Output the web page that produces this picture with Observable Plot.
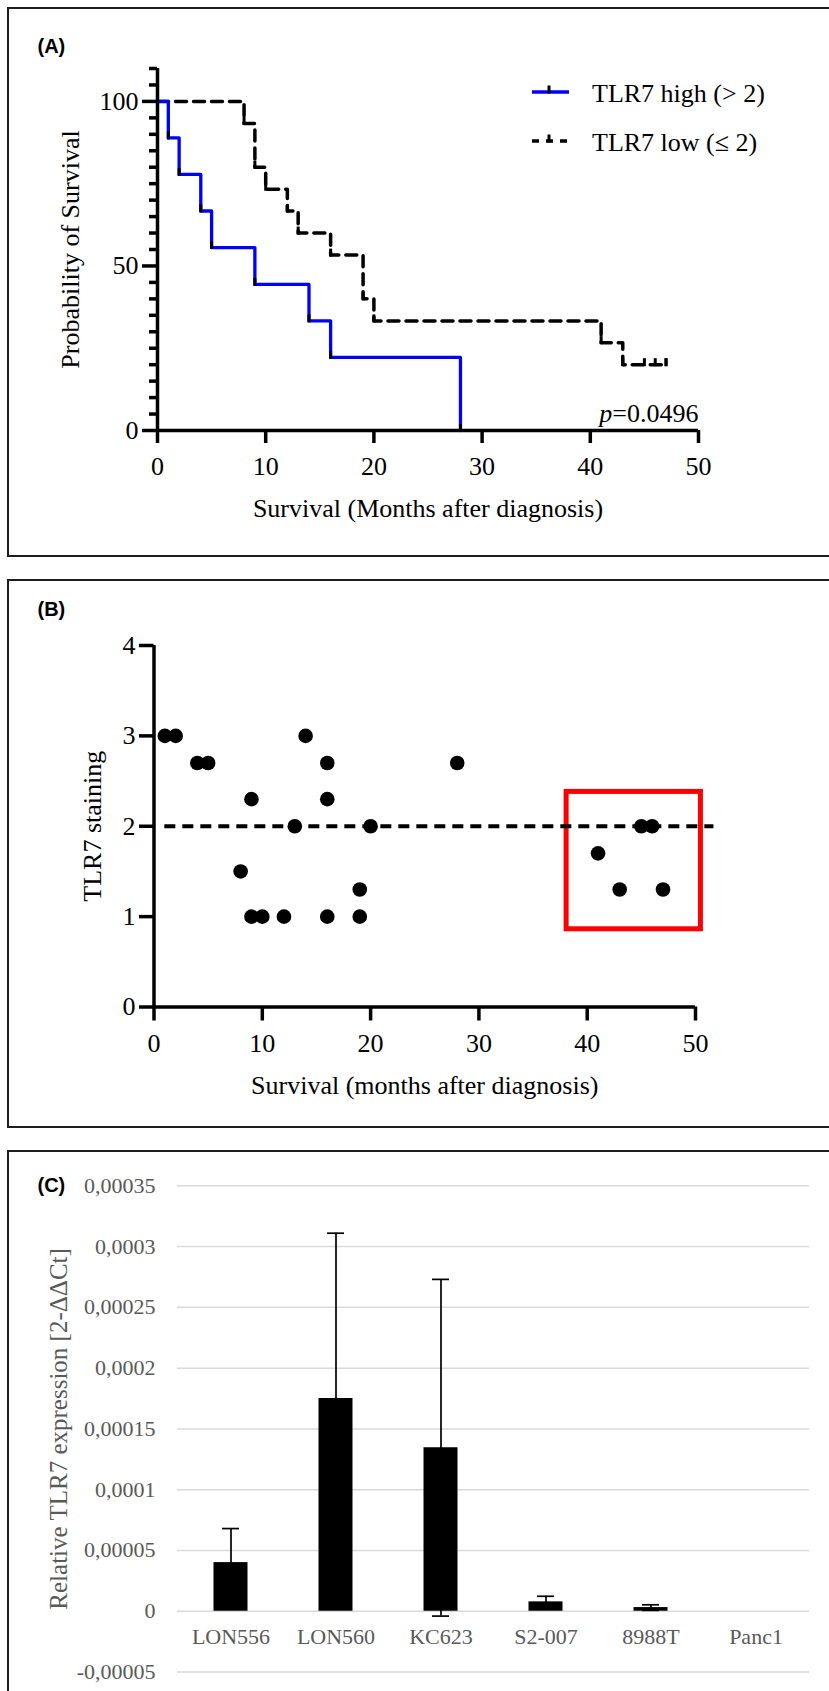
<!DOCTYPE html>
<html>
<head>
<meta charset="utf-8">
<script src="https://cdn.jsdelivr.net/npm/d3@7"></script>
<script src="https://cdn.jsdelivr.net/npm/@observablehq/plot@0.6"></script>
<style>
html, body { margin: 0; padding: 0; background: #fff; overflow: hidden; }
#page { position: relative; width: 829px; height: 1691px; overflow: hidden; background: #fff; }
.panel { position: absolute; left: 6.7px; width: 900px; border: 2.7px solid #1e1e1e; box-sizing: border-box; }
.chart { position: absolute; left: 0; }
</style>
</head>
<body>
<div id="page">
  <div class="panel" style="top:6.7px;height:550px"></div>
  <div class="panel" style="top:578.7px;height:549.3px"></div>
  <div class="panel" style="top:1150px;height:700px"></div>
</div>
<script>
// ---------- Panel A: Kaplan-Meier ----------
const kmHighTime = [0, 1, 2, 4, 5, 9, 14, 16, 28];
const kmHighSurv = [100, 88.9, 77.8, 66.7, 55.6, 44.4, 33.3, 22.2, 0];
const kmLowTime = [0, 8, 9, 10, 12, 13, 16, 19, 20, 41, 43, 47];
const kmLowSurv = [100, 93.3, 80, 73.3, 66.7, 60, 53.3, 40, 33.3, 26.7, 20, 20];
const kmLowCensorTime = [45, 46, 47];
const kmLowCensorSurv = [20, 20, 20];
const kmXTicks = [0, 10, 20, 30, 40, 50];
const kmYTicks = [0, 50, 100];
const kmYMinorTicks = [5, 10, 15, 20, 25, 30, 35, 40, 45, 55, 60, 65, 70, 75, 80, 85, 90, 95, 105, 110];
const kmLegendLabels = ["TLR7 high (> 2)", "TLR7 low (≤ 2)"];
const kmPValue = "p=0.0496";
const kmXLabel = "Survival (Months after diagnosis)";
const kmYLabel = "Probability of Survival";

// ---------- Panel B: scatter ----------
const survMonths = [1, 2, 4, 5, 9, 14, 16, 16, 28, 13, 20, 8, 9, 10, 12, 16, 19, 19, 41, 43, 45, 46, 47];
const tlr7Staining = [3, 3, 2.7, 2.7, 2.3, 3, 2.7, 2.3, 2.7, 2, 2, 1.5, 1, 1, 1, 1, 1.3, 1, 1.7, 1.3, 2, 2, 1.3];
const stainXTicks = [0, 10, 20, 30, 40, 50];
const stainYTicks = [0, 1, 2, 3, 4];
const stainThreshold = 2;
const stainThresholdSpan = [1, 51.7];
const highlightBox = [{x1: 38.1, x2: 50.5, y1: 0.86, y2: 2.38}];
const stainXLabel = "Survival (months after diagnosis)";
const stainYLabel = "TLR7 staining";

// ---------- Panel C: bar chart ----------
const cellLines = ["LON556", "LON560", "KC623", "S2-007", "8988T", "Panc1"];
const tlr7Expr = [0.00004, 0.000175, 0.0001345, 0.0000077, 0.000003, 0];
const tlr7Err = [0.000028, 0.000136, 0.0001385, 0.0000046, 0.0000023, 0];
const exprTicks = [-0.00005, 0, 0.00005, 0.0001, 0.00015, 0.0002, 0.00025, 0.0003, 0.00035];
const exprYLabel = "Relative TLR7 expression [2-ΔΔCt]";

const serif = "'Liberation Serif', 'Times New Roman', serif";
const sans = "'Liberation Sans', Arial, sans-serif";
const tickSymbol = { draw(ctx) { ctx.moveTo(0, 1.5); ctx.lineTo(0, -6.5); } };

const page = document.getElementById("page");
function place(svg, top) {
  svg.classList.add("chart");
  svg.style.top = top + "px";
  page.appendChild(svg);
}

// ----- A -----
const highData = kmHighTime.map((t, i) => ({t, s: kmHighSurv[i]}));
const lowData = kmLowTime.map((t, i) => ({t, s: kmLowSurv[i]}));
const highMarks = highData.slice(1);
const lowMarks = lowData.slice(1).concat(kmLowCensorTime.map((t, i) => ({t, s: kmLowCensorSurv[i]})));

const plotA = Plot.plot({
  width: 829, height: 560,
  marginLeft: 157, marginRight: 131, marginTop: 68, marginBottom: 130,
  x: {domain: [0, 50]},
  y: {domain: [0, 110]},
  style: {fontFamily: serif, fontSize: "26px", color: "#000", background: "transparent", overflow: "visible"},
  marks: [
    Plot.line(lowData, {x: "t", y: "s", curve: "step-after", stroke: "#000", strokeWidth: 3.5, strokeDasharray: "11,7"}),
    Plot.line(highData, {x: "t", y: "s", curve: "step-after", stroke: "#0000ff", strokeWidth: 3.3}),
    Plot.dot(lowMarks, {x: "t", y: "s", symbol: tickSymbol, stroke: "#000", strokeWidth: 3, fill: "none"}),
    Plot.dot(highMarks, {x: "t", y: "s", symbol: tickSymbol, stroke: "#000", strokeWidth: 3, fill: "none"}),
    Plot.ruleX([0], {stroke: "#000", strokeWidth: 3.5}),
    Plot.ruleY([0], {stroke: "#000", strokeWidth: 3.5}),
    Plot.axisY({ticks: kmYMinorTicks, tickSize: 8, tickFormat: () => "", strokeWidth: 3.5, label: null}),
    Plot.axisY({ticks: kmYTicks, tickSize: 15, tickPadding: 4, tickFormat: d => String(d), strokeWidth: 3.5, fontSize: 26, label: null}),
    Plot.axisX({ticks: kmXTicks, tickSize: 13, tickPadding: 13.5, tickFormat: d => String(d), strokeWidth: 3.5, fontSize: 26, label: null}),
    Plot.text([kmXLabel], {text: d => d, frameAnchor: "bottom", textAnchor: "middle", lineAnchor: "bottom", dy: 86, fontSize: 26}),
    Plot.text([kmYLabel], {text: d => d, frameAnchor: "left", textAnchor: "middle", lineAnchor: "middle", rotate: -90, dx: -87.3, fontSize: 26}),
    Plot.text([kmPValue], {text: d => d, frameAnchor: "bottom-right", textAnchor: "end", lineAnchor: "bottom", dy: -9, fontSize: 26}),
    Plot.text(["(A)"], {text: d => d, frameAnchor: "top-left", textAnchor: "start", lineAnchor: "bottom", dx: -120, dy: -16, fontFamily: sans, fontWeight: "bold", fontSize: 20})
  ]
});
d3.select(plotA).selectAll("text").filter(function () { return this.textContent === kmPValue; })
  .each(function () {
    const el = d3.select(this);
    el.text(null);
    el.append("tspan").attr("font-style", "italic").text("p");
    el.append("tspan").text(kmPValue.slice(1));
  });
// legend drawn inside panel A
const leg = d3.select(plotA).append("g")
  .attr("font-family", serif).attr("font-size", 26).attr("text-anchor", "start");
const legY = [92, 141];
kmLegendLabels.forEach((label, i) => {
  const g = leg.append("g");
  if (i === 0) {
    g.append("line").attr("x1", 532).attr("x2", 569).attr("y1", legY[i]).attr("y2", legY[i])
      .attr("stroke", "#0000ff").attr("stroke-width", 3.3);
  } else {
    g.append("line").attr("x1", 532).attr("x2", 570).attr("y1", legY[i]).attr("y2", legY[i])
      .attr("stroke", "#000").attr("stroke-width", 3.5).attr("stroke-dasharray", "7,7");
  }
  g.append("line").attr("x1", 549).attr("x2", 549).attr("y1", legY[i] + 1.5).attr("y2", legY[i] - 6.5)
    .attr("stroke", "#000").attr("stroke-width", 3);
  g.append("text").attr("x", 592).attr("y", legY[i] + 9.5).attr("fill", "#000").attr("text-anchor", "start").text(label);
});
place(plotA, 0);

// ----- B -----
const stainData = survMonths.map((t, i) => ({t, v: tlr7Staining[i]}));
const plotB = Plot.plot({
  width: 829, height: 560,
  marginLeft: 153.5, marginRight: 134, marginTop: 75, marginBottom: 123.5,
  x: {domain: [0, 50]},
  y: {domain: [0, 4]},
  style: {fontFamily: serif, fontSize: "26px", color: "#000", background: "transparent", overflow: "visible"},
  marks: [
    Plot.rect(highlightBox, {x1: "x1", x2: "x2", y1: "y1", y2: "y2", stroke: "#ff0000", strokeWidth: 5, fill: "none"}),
    Plot.ruleY([stainThreshold], {x1: stainThresholdSpan[0], x2: stainThresholdSpan[1], stroke: "#000", strokeWidth: 4, strokeDasharray: "11,7"}),
    Plot.dot(stainData, {x: "t", y: "v", r: 7.3, fill: "#000", stroke: "none"}),
    Plot.ruleX([0], {stroke: "#000", strokeWidth: 3.5}),
    Plot.ruleY([0], {stroke: "#000", strokeWidth: 3.5}),
    Plot.axisY({ticks: stainYTicks, tickSize: 14.5, tickPadding: 4, tickFormat: d => String(d), strokeWidth: 3.5, fontSize: 26, label: null}),
    Plot.axisX({ticks: stainXTicks, tickSize: 14, tickPadding: 13, tickFormat: d => String(d), strokeWidth: 3.5, fontSize: 26, label: null}),
    Plot.text([stainXLabel], {text: d => d, frameAnchor: "bottom", textAnchor: "middle", lineAnchor: "bottom", dy: 86.5, fontSize: 26}),
    Plot.text([stainYLabel], {text: d => d, frameAnchor: "left", textAnchor: "middle", lineAnchor: "middle", rotate: -90, dx: -61.3, fontSize: 26}),
    Plot.text(["(B)"], {text: d => d, frameAnchor: "top-left", textAnchor: "start", lineAnchor: "bottom", dx: -116.5, dy: -30, fontFamily: sans, fontWeight: "bold", fontSize: 20})
  ]
});
place(plotB, 570);

// ----- C -----
const exprData = cellLines.map((name, i) => ({name, v: tlr7Expr[i], e: tlr7Err[i]}));
const errData = exprData.filter(d => d.e > 0);
const plotC = Plot.plot({
  width: 829, height: 541,
  marginLeft: 177, marginRight: 20, marginTop: 35.3, marginBottom: 19.5,
  x: {domain: cellLines, padding: 0, axis: null},
  y: {domain: [-0.00005, 0.00035], axis: null},
  style: {fontFamily: serif, fontSize: "22px", color: "#595959", background: "transparent", overflow: "visible"},
  marks: [
    Plot.ruleY(exprTicks, {stroke: "#d9d9d9", strokeWidth: 1.5}),
    Plot.axisY({ticks: exprTicks, tickSize: 0, tickPadding: 22, tickFormat: d => String(d).replace(".", ","), fill: "#595959", fontSize: 22, label: null}),
    Plot.ruleX(errData, {x: "name", y1: d => d.v - d.e, y2: d => d.v + d.e, stroke: "#000", strokeWidth: 1.7}),
    Plot.tickY(errData, {x: "name", y: d => d.v + d.e, stroke: "#000", strokeWidth: 1.7, insetLeft: 44, insetRight: 44}),
    Plot.tickY(errData, {x: "name", y: d => d.v - d.e, stroke: "#000", strokeWidth: 1.7, insetLeft: 44, insetRight: 44}),
    Plot.barY(exprData, {x: "name", y: "v", fill: "#000", insetLeft: 35.5, insetRight: 35.5}),
    Plot.text(cellLines, {x: d => d, y: 0, dy: 26, text: d => d, lineAnchor: "middle", fill: "#595959", fontSize: 22}),
    Plot.text([exprYLabel], {text: d => d, frameAnchor: "left", textAnchor: "middle", lineAnchor: "middle", rotate: -90, dx: -118.3, fill: "#595959", fontSize: 25}),
    Plot.text(["(C)"], {text: d => d, frameAnchor: "top-left", textAnchor: "start", lineAnchor: "bottom", dx: -140, dy: 5.7, fill: "#000", fontFamily: sans, fontWeight: "bold", fontSize: 20})
  ]
});
place(plotC, 1150);
</script>
</body>
</html>
